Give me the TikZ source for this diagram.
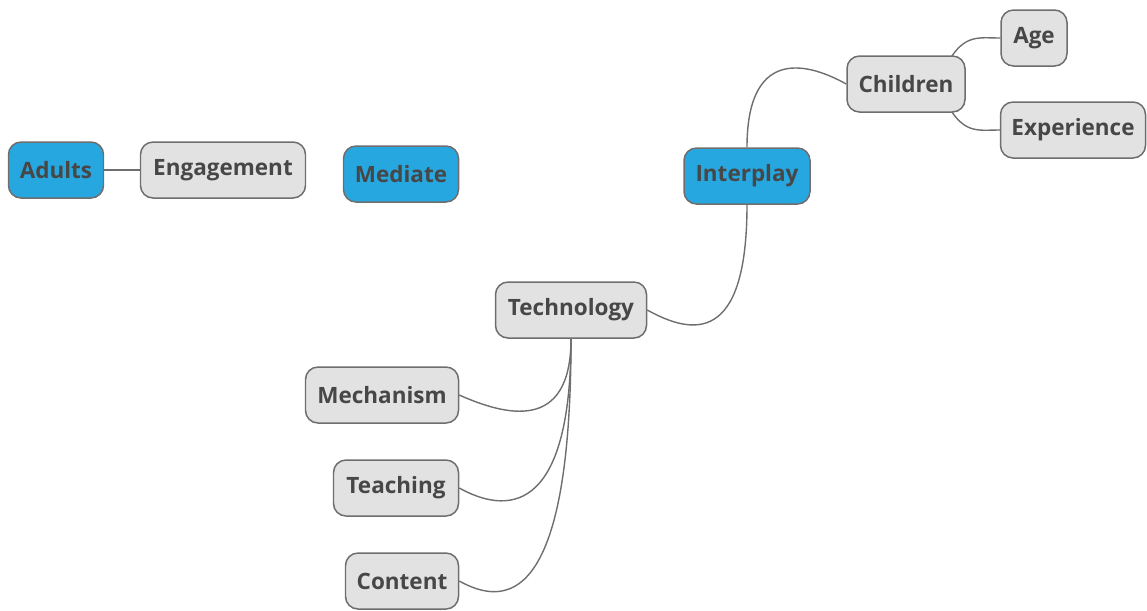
\documentclass[tikz,border=0pt]{standalone}
\usepackage{fontspec}
\setmainfont{Open Sans}
\definecolor{topicblue}{HTML}{27A7DF}
\definecolor{topicgray}{HTML}{E2E2E2}
\definecolor{edgegray}{HTML}{6E6E6E}
\definecolor{labelgray}{HTML}{474747}
\begin{document}
\begin{tikzpicture}[x=0.02cm,y=-0.02cm,
  topic/.style={draw=edgegray, line width=0.85pt, rounded corners=0.25cm,
    minimum height=56*0.02cm, inner sep=0pt, text=labelgray,
    font=\bfseries\fontsize{12.8}{15}\selectfont},
  mw/.style={minimum width=#1*0.02cm},
  main/.style={topic, fill=topicblue},
  sub/.style={topic, fill=topicgray},
  link/.style={draw=edgegray, line width=0.8pt}]
\useasboundingbox (0,0) rectangle (1147,610);

% left group
\node[main, mw=95]  (adults)  at (56,170)  {Adults};
\node[sub,  mw=165] (engage)  at (223,170) {Engagement};
\node[main, mw=115] (mediate) at (401,174) {Mediate};

% central topic and branches
\node[main, mw=126] (inter)   at (747,176) {Interplay};
\node[sub,  mw=118] (child)   at (906,84)  {Children};
\node[sub,  mw=66]  (age)     at (1034,38) {Age};
\node[sub,  mw=145] (exper)   at (1073,130){Experience};
\node[sub,  mw=151] (tech)    at (571,310) {Technology};
\node[sub,  mw=153] (mech)    at (382,395) {Mechanism};
\node[sub,  mw=125] (teach)   at (396,488) {Teaching};
\node[sub,  mw=113] (content) at (402,581) {Content};

% connectors
\draw[link] (adults.east) -- (engage.west);
\draw[link] (inter.north) .. controls +(0,-95) and +(-45,-25) .. (child.west);
\draw[link] (inter.south) .. controls +(0,140) and +(45,25) .. (tech.east);
\draw[link] (child.north east) ++(-14,1) .. controls +(15,-22) and +(-20,0) .. (age.west);
\draw[link] (child.south east) ++(-14,-1) .. controls +(15,22) and +(-20,0) .. (exper.west);
\draw[link] (tech.south) .. controls +(0,95) and +(45,20) .. (mech.east);
\draw[link] (tech.south) .. controls +(0,180) and +(45,25) .. (teach.east);
\draw[link] (tech.south) .. controls +(0,270) and +(45,25) .. (content.east);
\end{tikzpicture}
\end{document}
